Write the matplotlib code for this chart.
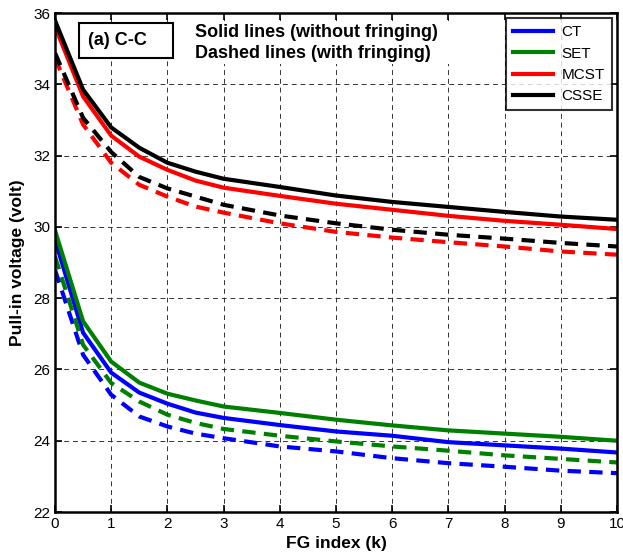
import matplotlib
matplotlib.use('Agg')
import matplotlib.pyplot as plt
from matplotlib.patches import Rectangle

plt.rcParams['font.family'] = ['Liberation Sans', 'DejaVu Sans']

# FG index values
fg = [0, 0.5, 1, 1.5, 2, 2.5, 3, 4, 5, 6, 7, 8, 9, 10]

# pull-in voltage, without fringing (solid)
ct_solid = [29.64, 27.03, 25.91, 25.35, 25.04, 24.79, 24.64, 24.44, 24.26, 24.14, 23.96, 23.87, 23.78, 23.67]
set_solid = [29.9, 27.35, 26.22, 25.63, 25.32, 25.13, 24.96, 24.78, 24.59, 24.43, 24.29, 24.2, 24.11, 24.0]
mcst_solid = [35.62, 33.66, 32.56, 31.97, 31.6, 31.3, 31.1, 30.87, 30.65, 30.48, 30.31, 30.17, 30.06, 29.94]
csse_solid = [35.79, 33.85, 32.79, 32.22, 31.8, 31.55, 31.35, 31.12, 30.88, 30.7, 30.56, 30.42, 30.29, 30.2]

# pull-in voltage, with fringing (dashed)
ct_dash = [28.79, 26.41, 25.29, 24.68, 24.4, 24.2, 24.07, 23.84, 23.7, 23.51, 23.37, 23.27, 23.16, 23.09]
set_dash = [29.17, 26.69, 25.62, 25.1, 24.73, 24.5, 24.33, 24.14, 23.98, 23.84, 23.72, 23.59, 23.49, 23.39]
mcst_dash = [34.74, 32.87, 31.8, 31.18, 30.85, 30.57, 30.4, 30.1, 29.86, 29.7, 29.57, 29.45, 29.31, 29.22]
csse_dash = [34.88, 33.06, 32.1, 31.4, 31.08, 30.85, 30.62, 30.32, 30.1, 29.92, 29.78, 29.67, 29.55, 29.45]

names = ['CT', 'SET', 'MCST', 'CSSE']
colors = ['#0000ff', '#008000', '#ff0000', '#000000']
solid = [ct_solid, set_solid, mcst_solid, csse_solid]
dashed = [ct_dash, set_dash, mcst_dash, csse_dash]

fig = plt.figure(figsize=(6.23, 5.6), dpi=100)
ax = fig.add_axes([0.0883, 0.0857, 0.902, 0.891])

lines = []
for name, c, ys in zip(names, colors, solid):
    ln, = ax.plot(fg, ys, color=c, lw=3, label=name, solid_joinstyle='miter')
    lines.append(ln)
for c, ys in zip(colors, dashed):
    ax.plot(fg, ys, color=c, lw=3, linestyle=(0, (3.2, 2.0)))

ax.set_xlim(0, 10)
ax.set_ylim(22, 36)
ax.set_xticks(range(0, 11))
ax.set_yticks(range(22, 37, 2))
ax.grid(True, color='#333333', linestyle=(0, (5, 4)), lw=0.7)
ax.tick_params(direction='in', top=True, right=True, labelsize=11, length=5, width=1.2)
for s in ax.spines.values():
    s.set_linewidth(1.8)

ax.set_xlabel('FG index (k)', fontsize=12.5, fontweight='bold', labelpad=4)
ax.set_ylabel('Pull-in voltage (volt)', fontsize=12.5, fontweight='bold', labelpad=6)

# white backing behind the note so the grid doesn't run through it
ax.add_patch(Rectangle((2.1, 34.58), 5.2, 1.2, fc='white', ec='none', zorder=4))

# panel tag in a plain box
ax.add_patch(Rectangle((0.43, 34.75), 1.67, 0.98, fc='white', ec='black', lw=1.5, zorder=5))
ax.text(0.59, 35.24, '(a) C-C', fontsize=13, fontweight='bold', va='center', zorder=6)

ax.text(2.5, 35.45, 'Solid lines (without fringing)', fontsize=13, fontweight='bold', va='center', zorder=6)
ax.text(2.5, 34.86, 'Dashed lines (with fringing)', fontsize=13, fontweight='bold', va='center', zorder=6)

leg = ax.legend(handles=lines, loc='upper right', fontsize=11, frameon=True,
                fancybox=False, edgecolor='black', handlelength=2.6, handletextpad=0.55,
                borderaxespad=0.35, labelspacing=0.48, borderpad=0.45)
leg.get_frame().set_linewidth(1.5)

fig.savefig('out.png', dpi=100)
